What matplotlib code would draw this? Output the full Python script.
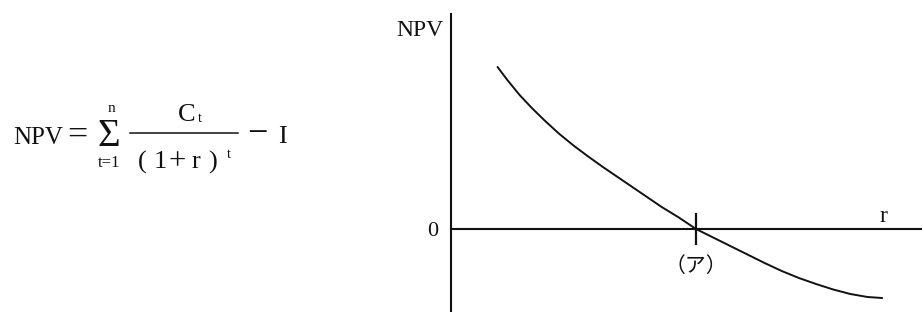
import matplotlib
matplotlib.use("Agg")
import matplotlib.pyplot as plt

# NPV curve (r in %, NPV in arbitrary units)
rate = [1.9, 2.3, 2.8, 3.3, 3.8, 4.4, 5.0, 5.6, 6.2, 6.8, 7.4, 8.0, 8.6,
        9.3, 10.0, 10.7, 11.4, 12.1, 12.8, 13.5, 14.2, 14.9, 15.6, 16.3,
        17.0, 17.6]
npv = [162, 149, 134, 121, 109, 95.5, 83.5, 72.5, 62, 52, 42, 32, 22,
       11.5, 0, -8.5, -17, -25.5, -34, -42, -49, -55, -60.5, -65,
       -68, -69]
irr = 10.0
irr_label = "（ア）"

serif = "Liberation Serif"
ink = "#111111"

fig = plt.figure(figsize=(9.22, 3.12), dpi=100)
W, H = 922.0, 312.0

# ---- formula on the left (placed in pixel space of the figure)
def ftext(x, y, s, size, family=serif, **kw):
    fig.text(x / W, 1 - y / H, s, fontsize=size, family=family,
             color=ink, ha="center", va="center", **kw)

ftext(38, 138, "NPV", 18)
ftext(77, 136, "=", 26)
ftext(109, 136, "Σ", 28)
ftext(111, 109, "n", 11)
ftext(109, 163, "t=1", 12)
ftext(187, 115, "C", 19)
ftext(200, 119, "t", 10)
fig.add_artist(plt.Line2D([130 / W, 238 / W], [1 - 133 / H, 1 - 133 / H],
                          color=ink, lw=1.1))
for ch, x, fs in zip(["(", "1", "+", "r", ")"], [142, 160, 177, 196, 213],
                     [19, 19, 22, 19, 19]):
    ftext(x, 162, ch, fs)
ftext(229, 155, "t", 10)
ftext(257, 135, "−", 26)
ftext(282, 137, "I", 19)

# ---- NPV profile on the right
ax = fig.add_axes([451 / W, 0, 471 / W, 1])
ax.plot(rate, npv, color=ink, lw=1.4, solid_capstyle="round",
        solid_joinstyle="round")
ax.set_xlim(0, 471 / 24.5)
ax.set_ylim(-83, 229)

for s in ("top", "right"):
    ax.spines[s].set_visible(False)
ax.spines["left"].set_bounds(-83, 215)
ax.spines["bottom"].set_position(("data", 0))
for s in ("left", "bottom"):
    ax.spines[s].set_linewidth(1.5)
    ax.spines[s].set_color(ink)

ax.set_yticks([0])
ax.set_yticklabels(["0"], fontsize=16, family=serif)
ax.tick_params(axis="y", length=0, pad=9, colors=ink)

ax.set_xticks([irr])
ax.set_xticklabels([irr_label], fontsize=15,
                   family=["Noto Sans CJK JP", "DejaVu Sans"])
ax.tick_params(axis="x", direction="inout", length=23, width=1.6,
               pad=7, colors=ink)

ax.text(-1.27, 198, "NPV", fontsize=17, family=serif, color=ink,
        ha="center", va="center", clip_on=False)
ax.text(17.67, 13, "r", fontsize=17, family=serif, color=ink,
        ha="center", va="center")

fig.savefig("out.png", dpi=100)
